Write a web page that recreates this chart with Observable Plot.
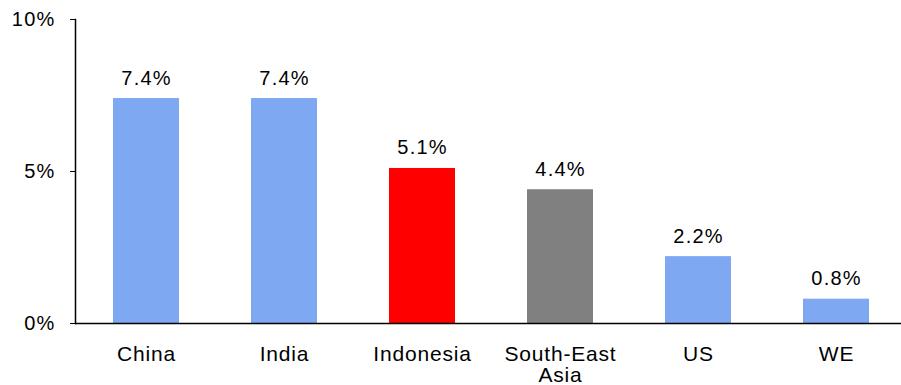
<!DOCTYPE html>
<html><head><meta charset="utf-8">
<script src="https://cdn.jsdelivr.net/npm/d3@7"></script>
<script src="https://cdn.jsdelivr.net/npm/@observablehq/plot@0.6"></script>
<style>body{margin:0;background:#fff}</style>
</head><body><div id="chart"></div>
<script>
const categories = ["China", "India", "Indonesia", "South-East\nAsia", "US", "WE"];
const values = [7.4, 7.4, 5.1, 4.4, 2.2, 0.8];
const colors = ["#7FA8F2", "#7FA8F2", "#FF0000", "#808080", "#7FA8F2", "#7FA8F2"];
const yTicks = [0, 5, 10];

const data = categories.map((c, i) => ({cat: c, v: values[i], color: colors[i]}));

const chart = Plot.plot({
  width: 901, height: 385,
  marginLeft: 75, marginRight: 0, marginTop: 19, marginBottom: 62,
  style: {fontFamily: "'Liberation Sans', Arial, sans-serif", fontSize: "20px", letterSpacing: "1.2px", color: "#000", background: "#fff"},
  x: {domain: categories, range: [75, 908], paddingInner: 0.52, paddingOuter: 0.26, label: null},
  y: {domain: [0, 10], label: null},
  marks: [
    Plot.barY(data, {x: "cat", y: "v", fill: "color"}),
    Plot.text(data, {x: "cat", y: "v", text: d => d.v.toFixed(1) + "%", lineAnchor: "bottom", dy: -14, fill: "#000", fontSize: 20}),
    Plot.axisY({ticks: yTicks, tickFormat: d => d + "%", tickSize: 5, tickPadding: 15, stroke: "#000", strokeOpacity: 1, fill: "#000", fontSize: 20}),
    Plot.axisX({tickSize: 0, tickPadding: 23, lineHeight: 1.0, fill: "#000", fontSize: 21}),
    Plot.frame({anchor: "left", stroke: "#000", strokeWidth: 1.5}),
    Plot.ruleY([0], {stroke: "#000", strokeWidth: 1.5})
  ]
});
d3.select(chart).selectAll('g[aria-label="x-axis tick label"]').style("letter-spacing", "0.8px");
document.getElementById("chart").appendChild(chart);
</script></body></html>
